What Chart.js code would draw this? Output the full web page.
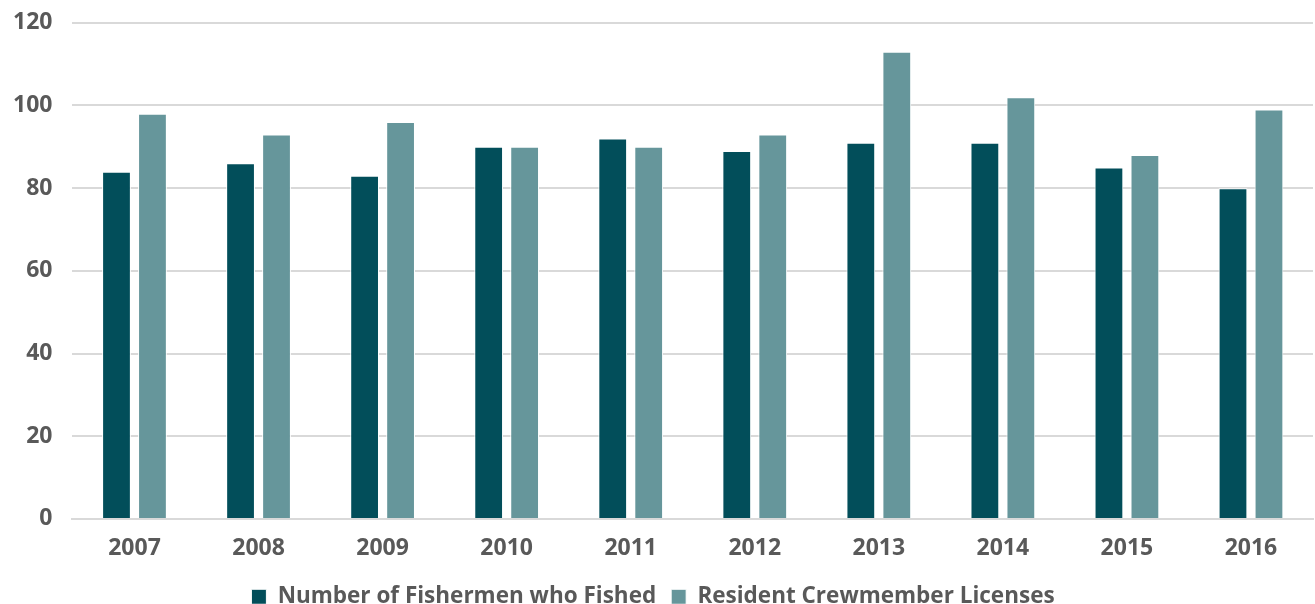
<!DOCTYPE html>
<html>
<head>
<meta charset="utf-8">
<script src="https://cdn.jsdelivr.net/npm/chart.js@4/dist/chart.umd.min.js"></script>
<style>
  html, body { margin: 0; padding: 0; background: #fff; overflow: hidden; }
  #wrap { width: 1315px; height: 604px; position: relative; overflow: hidden; }
  #box { position: absolute; left: -7px; top: -11px; width: 1322px; height: 629px; }
</style>
</head>
<body>
<div id="wrap"><div id="box"><canvas id="chart"></canvas></div></div>
<script>
const years = ['2007', '2008', '2009', '2010', '2011', '2012', '2013', '2014', '2015', '2016'];
const fishermen = [84, 86, 83, 90, 92, 89, 91, 91, 85, 80];
const crewLicenses = [98, 93, 96, 90, 90, 93, 113, 102, 88, 99];
const yTicks = [0, 20, 40, 60, 80, 100, 120];

const textColor = '#595959';
const gridColor = '#d9d9d9';
const font = {family: '"Open Sans", sans-serif', size: 23, weight: 'bold'};

new Chart(document.getElementById('chart'), {
  type: 'bar',
  data: {
    labels: years,
    datasets: [
      {
        label: 'Number of Fishermen who Fished',
        data: fishermen,
        backgroundColor: '#024e5a',
        borderColor: '#ffffff',
        borderWidth: 1
      },
      {
        label: 'Resident Crewmember Licenses',
        data: crewLicenses,
        backgroundColor: '#66969b',
        borderColor: '#ffffff',
        borderWidth: 1
      }
    ]
  },
  options: {
    responsive: true,
    maintainAspectRatio: false,
    animation: false,
    datasets: {
      bar: {categoryPercentage: 0.58, barPercentage: 0.8}
    },
    layout: {padding: {top: 0, right: 2, left: 0, bottom: 0}},
    plugins: {
      tooltip: {enabled: false},
      legend: {
        position: 'bottom',
        labels: {
          color: textColor,
          font: {family: font.family, size: 22.5, weight: 'bold'},
          boxWidth: 15,
          boxHeight: 15,
          padding: 15
        }
      }
    },
    scales: {
      x: {
        grid: {display: false},
        border: {color: gridColor, width: 2},
        ticks: {color: textColor, font: font, padding: 8}
      },
      y: {
        min: 0,
        max: 120,
        afterBuildTicks: (axis) => { axis.ticks = yTicks.map(v => ({value: v})); },
        grid: {color: gridColor, lineWidth: 2, drawTicks: false},
        border: {display: false},
        ticks: {color: textColor, font: font, padding: 20}
      }
    }
  }
});
</script>
</body>
</html>
